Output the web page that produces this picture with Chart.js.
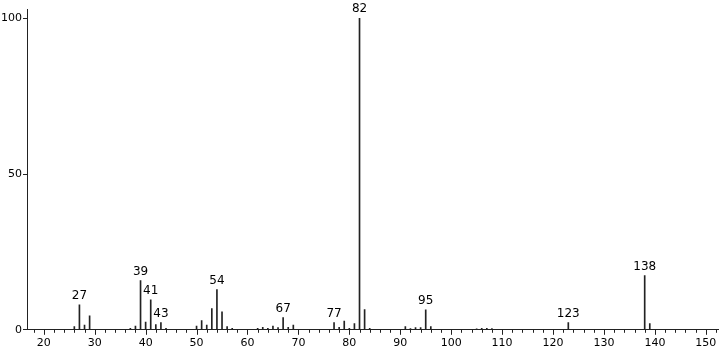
<!DOCTYPE html>
<html>
<head>
<meta charset="utf-8">
<script src="https://cdn.jsdelivr.net/npm/chart.js@4"></script>
<style>
  body { margin: 0; background: #fff; }
  #wrap { width: 723px; height: 352px; }
</style>
</head>
<body>
<div id="wrap"><canvas id="spectrum" width="723" height="352"></canvas></div>
<script>
// ========================
// DATA (m/z vs relative intensity)
// ========================
const masses = [26, 27, 28, 29, 37, 38, 39, 40, 41, 42, 43, 44,
    50, 51, 52, 53, 54, 55, 56, 57,
    62, 63, 64, 65, 66, 67, 68, 69,
    77, 78, 79, 80, 81, 82, 83, 84,
    91, 92, 93, 94, 95, 96,
    105, 106, 107, 108, 123, 138, 139];
const intensities = [1.0, 8.0, 1.5, 4.5, 0.5, 1.2, 15.8, 2.5, 9.6, 1.7, 2.3, 0.5,
    1.2, 3.0, 1.5, 6.8, 12.9, 5.8, 1.0, 0.5,
    0.5, 0.8, 0.5, 1.2, 0.7, 3.9, 0.8, 1.5,
    2.3, 0.8, 2.8, 0.5, 2.0, 100, 6.5, 0.5,
    1.0, 0.4, 0.7, 0.7, 6.4, 1.0,
    0.3, 0.5, 0.5, 0.4, 2.3, 17.4, 2.0];
const labelledPeaks = [27, 39, 41, 43, 54, 67, 77, 82, 95, 123, 138];
const yTickValues = [0, 50, 100];

const FONT = '"DejaVu Sans", sans-serif';
const INK = '#222';

// ========================
// PLUGINS
// ========================
// tick marks under the x axis: short every 2, longer every 10
const axisTicks = {
    id: 'axisTicks',
    afterDraw(chart) {
        const xs = chart.scales.x;
        const ctx = chart.ctx;
        const y0 = chart.chartArea.bottom;
        ctx.save();
        ctx.strokeStyle = INK;
        ctx.lineWidth = 1;
        for (let v = Math.ceil(xs.min / 2) * 2; v <= xs.max; v += 2) {
            const px = Math.round(xs.getPixelForValue(v)) + 0.5;
            const len = v % 10 === 0 ? 5 : 3;
            ctx.beginPath();
            ctx.moveTo(px, y0);
            ctx.lineTo(px, y0 + len);
            ctx.stroke();
        }
        ctx.restore();
    }
};

// m/z numbers above the main peaks
const peakLabels = {
    id: 'peakLabels',
    afterDatasetsDraw(chart) {
        const xs = chart.scales.x;
        const ys = chart.scales.y;
        const ctx = chart.ctx;
        ctx.save();
        ctx.fillStyle = '#000';
        ctx.font = '12px ' + FONT;
        ctx.textAlign = 'center';
        ctx.textBaseline = 'bottom';
        labelledPeaks.forEach(function(m) {
            const i = masses.indexOf(m);
            ctx.fillText(String(m), xs.getPixelForValue(m), ys.getPixelForValue(intensities[i]) - 3);
        });
        ctx.restore();
    }
};

// ========================
// CHART
// ========================
new Chart(document.getElementById('spectrum'), {
    type: 'bar',
    data: {
        datasets: [{
            data: masses.map(function(m, i) { return { x: m, y: intensities[i] }; }),
            backgroundColor: INK,
            barThickness: 1
        }]
    },
    options: {
        responsive: false,
        animation: false,
        layout: { padding: { left: 0, right: 3, top: 9, bottom: -5 } },
        plugins: {
            legend: { display: false },
            tooltip: { enabled: false }
        },
        scales: {
            x: {
                type: 'linear',
                min: 16.9,
                max: 152.5,
                offset: false,
                grid: { display: false, drawTicks: false },
                border: { display: true, color: INK, width: 1 },
                ticks: {
                    stepSize: 2,
                    includeBounds: false,
                    autoSkip: false,
                    maxRotation: 0,
                    padding: 7,
                    color: '#000',
                    font: { family: FONT, size: 11 },
                    callback: function(v) { return v % 10 === 0 ? v : ''; }
                }
            },
            y: {
                min: 0,
                max: 103,
                afterBuildTicks: function(axis) {
                    axis.ticks = yTickValues.map(function(v) { return { value: v }; });
                },
                grid: { drawOnChartArea: false, tickLength: 5, color: INK },
                border: { display: true, color: INK, width: 1 },
                ticks: {
                    padding: 1,
                    color: '#000',
                    font: { family: FONT, size: 11 }
                }
            }
        }
    },
    plugins: [axisTicks, peakLabels]
});
</script>
</body>
</html>
